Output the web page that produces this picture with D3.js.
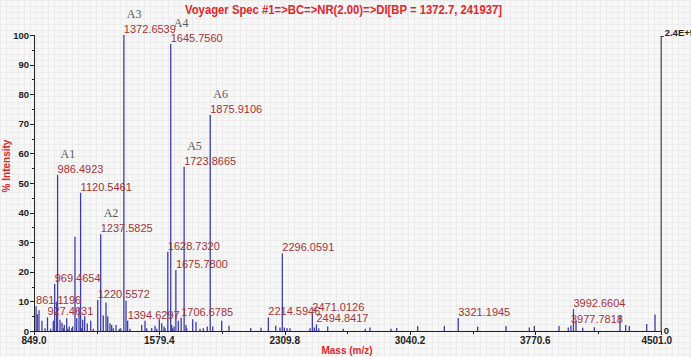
<!DOCTYPE html>
<html>
<head>
<meta charset="utf-8">
<script src="https://cdn.jsdelivr.net/npm/d3@7"></script>
<style>
  html, body { margin: 0; padding: 0; background: #f7f7f7; }
  svg { display: block; }
</style>
</head>
<body>
<svg id="chart" width="691" height="357"></svg>
<script>
// ---------------- DATA ----------------
const title = "Voyager Spec #1=>BC=>NR(2.00)=>DI[BP = 1372.7, 241937]";
const xLabel = "Mass (m/z)";
const yLabel = "% Intensity";
const xTickValues = [849.0, 1579.4, 2309.8, 3040.2, 3770.6, 4501.0];
const yTickValues = [0, 10, 20, 30, 40, 50, 60, 70, 80, 90, 100];
const rightAxisMax = "2.4E+5";

// peaks (m/z, % intensity)
const peakMass = [
  861.1196, 868.2, 878.1, 895.6, 913.1, 927.4631, 946.3, 961.5, 969.4654, 981.3, 986.4923,
  1000.5, 1012.2, 1019.7, 1025.6, 1039.6, 1045.4, 1054.7, 1068.7, 1074.5, 1087.9, 1097.8,
  1111.2, 1120.5461, 1127.0, 1132.8, 1144.5, 1159.6, 1179.4, 1194.6, 1220.5572, 1237.5825,
  1252.8, 1268.6, 1278.5, 1291.9, 1301.8, 1311.1, 1326.9, 1346.1, 1354.3, 1372.6539, 1385.1,
  1394.6297, 1408.4, 1476.6, 1495.9, 1505.7, 1534.9, 1554.1, 1564.0, 1579.2, 1593.2, 1606.6,
  1612.4, 1628.7320, 1645.7560, 1651.5, 1657.3, 1664.9, 1675.7800, 1690.0, 1706.6785,
  1723.8665, 1734.8, 1738.9, 1773.8, 1793.1, 1816.4, 1835.6, 1858.9, 1875.9106, 1890.4,
  1942.8, 1985.4, 2111.8, 2171.8, 2214.5946, 2257.5, 2282.6, 2296.0591, 2307.6, 2323.4,
  2340.8, 2457.4, 2471.0126, 2482.4, 2494.8417, 2508.1, 2560.5, 2651.4, 2779.7, 2807.1,
  2929.4, 2962.6, 3085.0, 3240.0, 3321.1945, 3434.6, 3599.6, 3735.4, 3764.5, 3908.4,
  3962.6, 3977.7818, 3992.6604, 4007.5, 4046.5, 4114.1, 4263.9, 4297.1, 4318.1, 4419.5, 4467.9
];
const peakIntensity = [
  8.4, 5.7, 7.0, 3.5, 0.9, 4.6, 0.8, 3.5, 15.9, 9.9, 52.7,
  3.8, 2.8, 0.9, 2.0, 4.3, 0.8, 1.5, 0.9, 1.5, 31.8, 4.3,
  7.8, 46.7, 0.9, 3.8, 5.0, 2.5, 3.5, 0.8, 10.5, 32.7,
  5.2, 9.6, 4.9, 2.6, 2.0, 0.9, 2.0, 0.8, 0.9, 100, 10.2,
  3.5, 0.8, 2.0, 3.5, 0.9, 1.0, 1.8, 0.8, 4.0, 2.6, 1.5,
  0.9, 26.8, 97.0, 2.0, 0.9, 1.5, 20.6, 3.5, 4.5,
  55.5, 2.0, 0.9, 4.0, 3.0, 0.8, 0.9, 1.5, 73.0, 1.5,
  3.5, 1.8, 1.0, 1.1, 4.6, 1.8, 1.2, 26.2, 1.2, 1.0,
  0.9, 0.9, 6.0, 1.2, 2.2, 0.9, 1.5, 0.8, 0.8, 1.2,
  0.8, 1.0, 1.7, 1.7, 4.4, 1.5, 1.7, 1.2, 1.7, 1.7,
  1.2, 1.9, 7.4, 3.5, 1.1, 1.3, 5.4, 2.0, 1.7, 2.4, 5.6
];

// labelled peaks
const labelMass = [
  861.1196, 927.4631, 969.4654, 986.4923, 1120.5461, 1220.5572, 1237.5825, 1372.6539,
  1394.6297, 1628.7320, 1645.7560, 1675.7800, 1706.6785, 1723.8665, 1875.9106,
  2214.5946, 2296.0591, 2471.0126, 2494.8417, 3321.1945, 3977.7818, 3992.6604
];

// annotations
const annotName = ["A1", "A2", "A3", "A4", "A5", "A6"];
const annotMass = [986.4923, 1237.5825, 1372.6539, 1645.7560, 1723.8665, 1875.9106];

// ---------------- DRAW ----------------
const svg = d3.select("#chart");
const W = 691, H = 357;
const m = { left: 34, right: 660.7, top: 35, bottom: 331 };

const x = d3.scaleLinear().domain([849.0, 4501.0]).range([m.left, m.right]);
const y = d3.scaleLinear().domain([0, 100]).range([m.bottom, m.top]);

// faint background grid
const bg = svg.append("g");
bg.append("rect").attr("width", W).attr("height", H).attr("fill", "#f7f7f7");
const gridStep = 6;
bg.selectAll("line.gv").data(d3.range(0, W, gridStep)).join("line")
  .attr("x1", d => d + 0.5).attr("x2", d => d + 0.5).attr("y1", 0).attr("y2", H)
  .attr("stroke", "#ececec").attr("stroke-width", 1);
bg.selectAll("line.gh").data(d3.range(0, H, gridStep)).join("line")
  .attr("y1", d => d + 0.5).attr("y2", d => d + 0.5).attr("x1", 0).attr("x2", W)
  .attr("stroke", "#ececec").attr("stroke-width", 1);

// title
svg.append("text")
  .attr("x", 343.5).attr("y", 14)
  .attr("text-anchor", "middle")
  .attr("font-family", "Liberation Sans, Arial, sans-serif")
  .attr("font-weight", "bold").attr("font-size", 12)
  .attr("fill", "#e3262b")
  .attr("textLength", 317).attr("lengthAdjust", "spacingAndGlyphs")
  .text(title);

// peaks
const peaks = peakMass.map((mz, i) => ({ mz, v: peakIntensity[i] }));
svg.append("g").selectAll("line").data(peaks).join("line")
  .attr("x1", d => x(d.mz)).attr("x2", d => x(d.mz))
  .attr("y1", y(0)).attr("y2", d => y(d.v))
  .attr("stroke", "#3d3daa").attr("stroke-width", 1.3);

// peak labels
const intensityOf = mz => peakIntensity[peakMass.indexOf(mz)];
svg.append("g").selectAll("text").data(labelMass).join("text")
  .attr("x", d => x(d)).attr("y", d => y(intensityOf(d)) - 2)
  .attr("font-family", "Liberation Sans, Arial, sans-serif")
  .attr("font-size", 11).attr("fill", "#a83236")
  .text(d => d.toFixed(4));

// annotations
svg.append("g").selectAll("text").data(annotName).join("text")
  .attr("x", (d, i) => x(annotMass[i]) + 3)
  .attr("y", (d, i) => y(intensityOf(annotMass[i])) - 17)
  .attr("font-family", "Liberation Serif, Times New Roman, serif")
  .attr("font-size", 12).attr("fill", "#5a5a5a")
  .text(d => d);

// axes
const axisColor = "#222";
const ax = svg.append("g").attr("stroke", axisColor).attr("stroke-width", 1).attr("fill", "none");
// left axis line
ax.append("line").attr("x1", m.left + 0.5).attr("x2", m.left + 0.5).attr("y1", y(100)).attr("y2", y(0) + 0.5);
// bottom axis line
ax.append("line").attr("x1", m.left).attr("x2", m.right + 0.5).attr("y1", y(0) + 0.5).attr("y2", y(0) + 0.5);
// right axis line
ax.append("line").attr("x1", m.right + 0.5).attr("x2", m.right + 0.5).attr("y1", y(100) + 1).attr("y2", y(0) + 0.5);
ax.append("line").attr("x1", m.right + 0.5).attr("x2", m.right + 3).attr("y1", y(100) + 1.5).attr("y2", y(100) + 1.5);

// y ticks (major every 10, minor every 5)
ax.selectAll("line.ymaj").data(yTickValues).join("line")
  .attr("x1", m.left - 4).attr("x2", m.left)
  .attr("y1", d => Math.round(y(d)) + 0.5).attr("y2", d => Math.round(y(d)) + 0.5);
ax.selectAll("line.ymin").data(yTickValues.slice(1).map(v => v - 5)).join("line")
  .attr("x1", m.left - 2).attr("x2", m.left)
  .attr("y1", d => Math.round(y(d)) + 0.5).attr("y2", d => Math.round(y(d)) + 0.5);

svg.append("g").selectAll("text").data(yTickValues).join("text")
  .attr("x", m.left - 5).attr("y", d => y(d) + 3.5)
  .attr("text-anchor", "end")
  .attr("font-family", "Liberation Sans, Arial, sans-serif")
  .attr("font-weight", "bold").attr("font-size", 9.5).attr("fill", axisColor)
  .text(d => d);

// x ticks
const xMinor = xTickValues.slice(1).map((v, i) => (v + xTickValues[i]) / 2);
ax.selectAll("line.xmaj").data(xTickValues).join("line")
  .attr("x1", d => Math.round(x(d)) + 0.5).attr("x2", d => Math.round(x(d)) + 0.5)
  .attr("y1", y(0)).attr("y2", y(0) + 4);
ax.selectAll("line.xmin").data(xMinor).join("line")
  .attr("x1", d => Math.round(x(d)) + 0.5).attr("x2", d => Math.round(x(d)) + 0.5)
  .attr("y1", y(0)).attr("y2", y(0) + 3);

svg.append("g").selectAll("text").data(xTickValues).join("text")
  .attr("x", (d, i) => x(d) - (i === xTickValues.length - 1 ? 4 : 0))
  .attr("y", y(0) + 13)
  .attr("text-anchor", "middle")
  .attr("font-family", "Liberation Sans, Arial, sans-serif")
  .attr("font-weight", "bold").attr("font-size", 10).attr("fill", axisColor)
  .text(d => d.toFixed(1));

// right axis labels
svg.append("text").attr("x", m.right + 3).attr("y", y(0) + 3)
  .attr("font-family", "Liberation Sans, Arial, sans-serif")
  .attr("font-weight", "bold").attr("font-size", 9.5).attr("fill", axisColor)
  .text("0");
svg.append("text").attr("x", m.right + 4).attr("y", y(100) + 1)
  .attr("font-family", "Liberation Sans, Arial, sans-serif")
  .attr("font-weight", "bold").attr("font-size", 9.5).attr("fill", axisColor)
  .text(rightAxisMax);

// axis titles
svg.append("text").attr("x", 347).attr("y", 354)
  .attr("text-anchor", "middle")
  .attr("font-family", "Liberation Sans, Arial, sans-serif")
  .attr("font-weight", "bold").attr("font-size", 10).attr("fill", "#e3262b")
  .text(xLabel);
svg.append("text")
  .attr("transform", "translate(10,166) rotate(-90)")
  .attr("text-anchor", "middle")
  .attr("font-family", "Liberation Sans, Arial, sans-serif")
  .attr("font-weight", "bold").attr("font-size", 10).attr("fill", "#e3262b")
  .text(yLabel);
</script>
</body>
</html>
